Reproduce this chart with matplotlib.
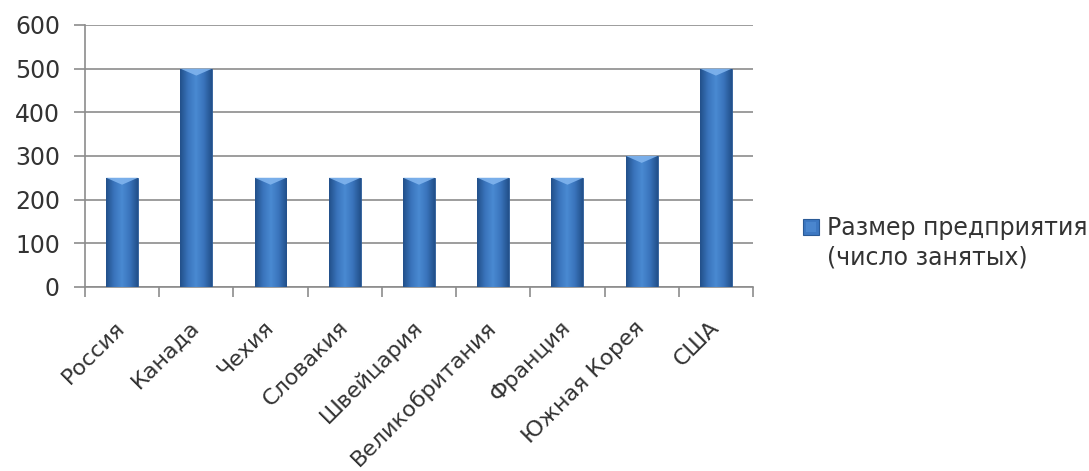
import matplotlib
matplotlib.use("Agg")
import matplotlib.pyplot as plt
from matplotlib.patches import Rectangle
import numpy as np
from matplotlib.colors import LinearSegmentedColormap

categories = ["Россия", "Канада", "Чехия", "Словакия", "Швейцария",
              "Великобритания", "Франция", "Южная Корея", "США"]
values = [250, 500, 250, 250, 250, 250, 250, 300, 500]
series_name = "Размер предприятия\n(число занятых)"
yticks = [0, 100, 200, 300, 400, 500, 600]

TXT = "#333333"
GRID = "#8C8C8C"
FS = 16

plt.rcParams['font.family'] = ['DejaVu Sans']
W, H = 1089, 471
fig = plt.figure(figsize=(W / 100, H / 100), dpi=100)
ax = fig.add_axes([0.078, 0.391, 0.6135, 0.556])

x = np.arange(len(categories))
bars = ax.bar(x, values, width=0.43, color="#3A74BC", edgecolor="#2A5A96",
              linewidth=0.6, zorder=3, label=series_name)

cmap = LinearSegmentedColormap.from_list(
    "g", ["#22508A", "#3A74BC", "#4A8AD2", "#3A74BC", "#22508A"])
grad = np.linspace(0, 1, 64).reshape(1, -1)
for b in bars:
    x0, y0 = b.get_x(), b.get_y()
    w, h = b.get_width(), b.get_height()
    im = ax.imshow(grad, cmap=cmap, aspect="auto",
                   extent=(x0, x0 + w, y0, y0 + h), zorder=3.5,
                   interpolation="bicubic")
    im.set_clip_path(b)
    ax.fill([x0, x0 + w, x0 + w * 0.5], [y0 + h, y0 + h, y0 + h - 16],
            color="#80B4EE", zorder=4, lw=0, alpha=0.9)

ax.set_xlim(-0.5, len(categories) - 0.5)
ax.set_ylim(0, 600)
ax.set_yticks(yticks)
ax.set_yticklabels([str(v) for v in yticks], fontsize=17, color=TXT)
ax.yaxis.grid(True, color=GRID, linewidth=1.2, zorder=0)
ax.set_axisbelow(True)

ax.set_xticks(x)
ax.set_xticklabels(categories, rotation=45, ha="right", va="center",
                   rotation_mode="anchor", fontsize=FS, color=TXT)
ax.tick_params(axis="x", length=0, pad=27)
ax.set_xticks(np.arange(-0.5, len(categories) + 0.5, 1), minor=True)
ax.tick_params(axis="x", which="minor", length=7, width=1.2, color=GRID,
               direction="out")
ax.tick_params(axis="y", length=8, width=1.2, color=GRID, direction="out",
               pad=10)

for s in ["top", "right"]:
    ax.spines[s].set_visible(False)
ax.spines["left"].set_color(GRID)
ax.spines["bottom"].set_color(GRID)
ax.spines["left"].set_linewidth(1.2)
ax.spines["bottom"].set_linewidth(1.2)

# legend (manual, marker aligned with the first text line)
mx, my, ms = 803, 219, 16
fig.patches.append(Rectangle((mx / W, 1 - (my + ms) / H), ms / W, ms / H,
                             transform=fig.transFigure, facecolor="#3D78C2",
                             edgecolor="#2A5A96", linewidth=0.8))
fig.patches.append(Rectangle(((mx + 3) / W, 1 - (my + ms - 3) / H),
                             (ms - 6) / W, (ms - 6) / H,
                             transform=fig.transFigure, facecolor="#5A98DE",
                             edgecolor="none", alpha=0.45))
fig.text(827 / W, 1 - 216 / H, series_name, fontsize=17, color=TXT,
         ha="left", va="top", linespacing=1.3)

fig.savefig("out.png", dpi=100)
